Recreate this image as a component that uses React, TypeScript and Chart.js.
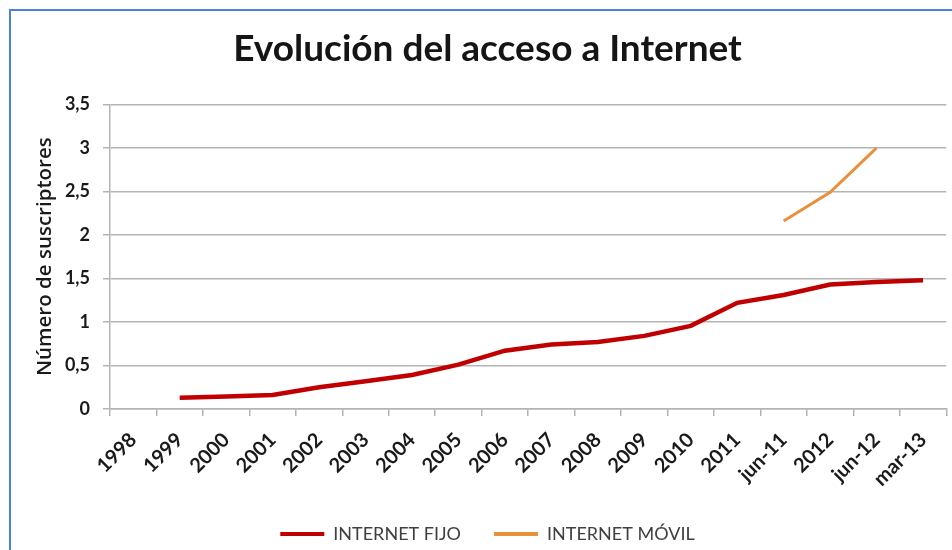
import React, { useEffect, useRef } from "react";
import { Chart, registerables } from "chart.js";

Chart.register(...registerables);

const categories = [
  "1998", "1999", "2000", "2001", "2002", "2003", "2004", "2005", "2006",
  "2007", "2008", "2009", "2010", "2011", "jun-11", "2012", "jun-12", "mar-13",
];

const internetFijo = [
  null, 0.13, 0.145, 0.16, 0.25, 0.32, 0.39, 0.51, 0.67,
  0.74, 0.77, 0.84, 0.955, 1.22, 1.31, 1.43, 1.46, 1.48,
];

const internetMovil = [
  null, null, null, null, null, null, null, null, null,
  null, null, null, null, null, 2.16, 2.49, 3.0, null,
];

const yTicks = [0, 0.5, 1, 1.5, 2, 2.5, 3, 3.5];

const seriesNames = ["INTERNET FIJO", "INTERNET MÓVIL"];
const titleText = "Evolución del acceso a Internet";
const yTitleText = "Número de suscriptores";

export default function App() {
  const canvasRef = useRef<HTMLCanvasElement | null>(null);

  useEffect(() => {
    if (!canvasRef.current) return;
    const chart = new Chart(canvasRef.current, {
      type: "line",
      data: {
        labels: categories,
        datasets: [
          {
            label: seriesNames[0],
            data: internetFijo,
            borderColor: "#c00000",
            backgroundColor: "#c00000",
            borderWidth: 4.5,
            pointRadius: 0,
            tension: 0,
            spanGaps: false,
          },
          {
            label: seriesNames[1],
            data: internetMovil,
            borderColor: "#e8913c",
            backgroundColor: "#e8913c",
            borderWidth: 3,
            pointRadius: 0,
            tension: 0,
            spanGaps: false,
          },
        ],
      },
      options: {
        animation: false,
        responsive: false,
        maintainAspectRatio: false,
        layout: { padding: { left: 22, right: -1, top: 0, bottom: -3 } },
        plugins: {
          title: {
            display: true,
            text: titleText,
            color: "#151515",
            font: { family: "Lato, 'Open Sans', sans-serif", size: 37, weight: "bold" },
            padding: { top: 27, bottom: 33 },
          },
          legend: {
            position: "bottom",
            labels: {
              boxWidth: 44,
              boxHeight: 4,
              padding: 33,
              color: "#404040",
              font: { family: "Lato, 'Open Sans', sans-serif", size: 18 },
              generateLabels: (c: any) =>
                Chart.defaults.plugins.legend.labels
                  .generateLabels(c)
                  .map((l: any) => ({ ...l, lineWidth: 0 })),
            },
          },
          tooltip: { enabled: false },
        },
        scales: {
          x: {
            type: "category",
            offset: true,
            grid: {
              offset: true,
              drawOnChartArea: false,
              drawTicks: true,
              tickLength: 7,
              color: "#b4b4b4",
              lineWidth: 1.5,
            },
            border: { color: "#b4b4b4", width: 1.5 },
            ticks: {
              autoSkip: false,
              minRotation: 45,
              maxRotation: 45,
              color: "#1a1a1a",
              padding: 12,
              font: { family: "Lato, 'Open Sans', sans-serif", size: 20, weight: "bold" },
            },
            afterFit: (scale: any) => {
              scale.height = 83;
            },
          },
          y: {
            min: 0,
            max: 3.5,
            afterBuildTicks: (scale: any) => {
              scale.ticks = yTicks.map((v) => ({ value: v }));
            },
            grid: {
              color: "#b4b4b4",
              lineWidth: 1.5,
              drawTicks: true,
              tickLength: 7,
            },
            border: { color: "#b4b4b4", width: 1.5 },
            ticks: {
              color: "#1a1a1a",
              padding: 13,
              font: { family: "Lato, 'Open Sans', sans-serif", size: 18, weight: "bold" },
              callback: (v: any) => String(v).replace(".", ","),
            },
            title: {
              display: true,
              text: yTitleText,
              color: "#1a1a1a",
              padding: { top: 11, bottom: 0 },
              font: { family: "'Open Sans', Lato, sans-serif", size: 20.5, weight: "600" },
            },
            afterFit: (scale: any) => {
              scale.width = 88;
            },
          },
        },
      },
    });
    return () => chart.destroy();
  }, []);

  return (
    <div style={{ position: "fixed", left: 0, top: 0, width: 952, height: 550, overflow: "hidden", background: "#fff" }}>
      <canvas ref={canvasRef} width={952} height={550} style={{ position: "absolute", left: 0, top: 0, width: 952, height: 550 }} />
      <div
        style={{
          position: "absolute",
          left: 9,
          top: 9,
          width: 1000,
          height: 600,
          borderLeft: "2px solid #4f7fd6",
          borderTop: "2px solid #4f7fd6",
          pointerEvents: "none",
        }}
      />
    </div>
  );
}
